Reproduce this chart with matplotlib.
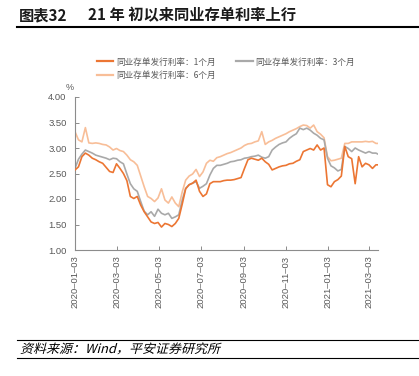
import matplotlib
matplotlib.use('Agg')
import matplotlib.pyplot as plt
import matplotlib.dates as mdates
from matplotlib.lines import Line2D
from matplotlib.textpath import TextPath
from matplotlib.patches import PathPatch
from matplotlib.font_manager import FontProperties
from matplotlib.transforms import Affine2D, IdentityTransform
import pandas as pd

# ---------------- data ----------------
dates = list(pd.date_range('2020-01-03', periods=88, freq='5D')) + [pd.Timestamp('2021-03-16')]

rate_1m = [2.57, 2.63, 2.83, 2.90, 2.86, 2.80, 2.77, 2.73, 2.70, 2.62,
           2.54, 2.52, 2.69, 2.60, 2.50, 2.36, 2.05, 2.01, 2.05, 1.88,
           1.75, 1.65, 1.55, 1.52, 1.54, 1.45, 1.52, 1.50, 1.46, 1.52,
           1.62, 1.90, 2.20, 2.28, 2.31, 2.37, 2.15, 2.05, 2.10, 2.30,
           2.34, 2.34, 2.34, 2.36, 2.37, 2.37, 2.38, 2.40, 2.42, 2.60,
           2.77, 2.80, 2.78, 2.76, 2.80, 2.73, 2.68, 2.57, 2.60, 2.63,
           2.65, 2.66, 2.69, 2.70, 2.74, 2.77, 2.93, 2.96, 2.99, 2.96,
           3.06, 2.96, 3.00, 2.28, 2.24, 2.34, 2.38, 2.45, 3.03, 2.83,
           2.79, 2.30, 2.83, 2.63, 2.70, 2.67, 2.60, 2.67, 2.67]
rate_3m = [2.60, 2.78, 2.88, 2.96, 2.93, 2.90, 2.86, 2.84, 2.82, 2.80,
           2.77, 2.80, 2.79, 2.73, 2.69, 2.49, 2.30, 2.20, 2.15, 1.95,
           1.76, 1.69, 1.75, 1.66, 1.80, 1.72, 1.69, 1.72, 1.62, 1.65,
           1.69, 1.98, 2.21, 2.28, 2.31, 2.34, 2.21, 2.25, 2.30, 2.47,
           2.60, 2.66, 2.66, 2.68, 2.70, 2.73, 2.74, 2.76, 2.77, 2.80,
           2.81, 2.83, 2.84, 2.86, 2.82, 2.80, 2.83, 2.96, 3.02, 3.07,
           3.10, 3.12, 3.19, 3.24, 3.28, 3.39, 3.36, 3.39, 3.35, 3.29,
           3.25, 3.19, 3.16, 2.80, 2.65, 2.61, 2.55, 2.58, 3.03, 2.99,
           2.93, 3.00, 2.96, 2.93, 2.90, 2.93, 2.90, 2.90, 2.88]
rate_6m = [3.32, 3.16, 3.12, 3.40, 3.10, 3.09, 3.10, 3.09, 3.07, 3.06,
           3.02, 2.96, 2.99, 2.95, 2.93, 2.86, 2.77, 2.73, 2.66, 2.45,
           2.24, 2.05, 2.01, 1.95, 2.02, 2.20, 1.98, 1.92, 2.04, 1.92,
           1.85, 2.14, 2.37, 2.45, 2.49, 2.58, 2.44, 2.53, 2.70, 2.76,
           2.74, 2.81, 2.83, 2.86, 2.89, 2.91, 2.94, 2.97, 3.00, 3.05,
           3.08, 3.09, 3.12, 3.14, 3.32, 3.07, 3.12, 3.15, 3.19, 3.22,
           3.25, 3.28, 3.32, 3.35, 3.38, 3.42, 3.45, 3.44, 3.39, 3.45,
           3.32, 3.27, 3.20, 2.83, 2.75, 2.76, 2.78, 2.80, 3.09, 3.09,
           3.12, 3.12, 3.12, 3.12, 3.13, 3.12, 3.13, 3.09, 3.09]

labels = ['同业存单发行利率：1个月', '同业存单发行利率：3个月', '同业存单发行利率：6个月']
colors = ['#EC7633', '#A9A9A9', '#F8BE98']
yticks = [1.00, 1.50, 2.00, 2.50, 3.00, 3.50, 4.00]

title_left = '图表32'
title_right = '21 年 初以来同业存单利率上行'
source = '资料来源：Wind，平安证券研究所'

# ---------------- figure ----------------
plt.rcParams['font.family'] = ['Liberation Sans', 'Noto Sans CJK SC']
CJK = ['Noto Sans CJK SC', 'Liberation Sans']
W, H = 419, 376
DPI = 100
fig = plt.figure(figsize=(W / DPI, H / DPI), dpi=DPI)


def fx(x):
    return x / W


def fy(y):
    return 1 - y / H


ax = fig.add_axes([fx(75), fy(250), fx(378) - fx(75), fy(97) - fy(250)])

series = [rate_1m, rate_3m, rate_6m]
zorders = [3, 2, 1]
for vals, c, z in zip(series, colors, zorders):
    ax.plot(dates, vals, color=c, lw=1.2, zorder=z)

ax.set_xlim(dates[0], dates[-1])
ax.set_ylim(1.0, 4.0)
ax.set_yticks(yticks)
ax.yaxis.set_major_formatter(matplotlib.ticker.FormatStrFormatter('%.2f'))
ax.xaxis.set_major_locator(mdates.MonthLocator(bymonth=[1, 3, 5, 7, 9, 11], bymonthday=3))
ax.xaxis.set_major_formatter(mdates.DateFormatter('%Y–%m–%d'))
for lab in ax.get_xticklabels():
    lab.set_rotation(90)

for s in ['top', 'right']:
    ax.spines[s].set_visible(False)
for s in ['left', 'bottom']:
    ax.spines[s].set_color('#8C8C8C')
    ax.spines[s].set_linewidth(0.8)
ax.tick_params(axis='both', direction='in', length=3, width=0.7, color='#8C8C8C',
               labelsize=6.8, labelcolor='#595959')
ax.tick_params(axis='y', pad=6)
ax.tick_params(axis='x', pad=4)

# % unit
fig.text(fx(70), fy(87), '%', fontsize=6.5, color='#595959', ha='center', va='center')

# legend (row-wise order: 1M, 3M / 6M)
handles = [Line2D([], [], color=c, lw=1.6) for c in colors]
order = [0, 2, 1]
fig.legend([handles[i] for i in order], [labels[i] for i in order], ncol=2,
           loc='upper left', bbox_to_anchor=(fx(97), fy(57.5)),
           frameon=False, prop={'family': CJK, 'size': 6.2}, labelcolor='#595959',
           handlelength=1.9, handletextpad=0.3, columnspacing=2.4, labelspacing=0.5,
           borderaxespad=0, borderpad=0)

# title and rules
fig.text(fx(19), fy(15), title_left, fontsize=11, fontweight='bold', family=CJK,
         ha='left', va='center', color='#1a1a1a')
fig.text(fx(88), fy(15), title_right, fontsize=11, fontweight='bold', family=CJK,
         ha='left', va='center', color='#1a1a1a')
fig.add_artist(Line2D([fx(17), 1.0], [fy(27), fy(27)], color='black', lw=1.5))
fig.add_artist(Line2D([fx(17), 1.0], [fy(340), fy(340)], color='black', lw=0.8))
fig.add_artist(Line2D([fx(17), 1.0], [fy(358), fy(358)], color='black', lw=0.8))

# italic (sheared) source line
fp = FontProperties(family='Noto Sans CJK SC', size=9)
tp = TextPath((0, 0), source, prop=fp)
tr = Affine2D().skew_deg(14, 0).scale(DPI / 72 * 1.04, DPI / 72).translate(20, H - 353)
fig.add_artist(PathPatch(tr.transform_path(tp), transform=IdentityTransform(),
                         facecolor='black', edgecolor='none'))

fig.savefig('out.png', dpi=DPI)
